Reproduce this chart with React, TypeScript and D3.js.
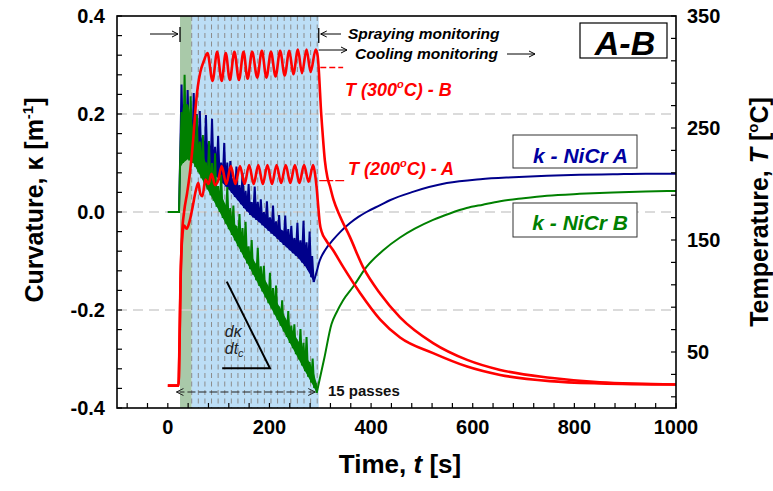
import React from "react";
import * as d3 from "d3";

type P = [number, number];
type B3 = [number, number, number];

// ---------- data ----------
const xTickLabels = [0, 200, 400, 600, 800, 1000];
const kTickLabels = [-0.4, -0.2, 0.0, 0.2, 0.4];
const tTickLabels = [50, 150, 250, 350];
const kGrid = [-0.2, 0.0, 0.2];

const sprayBand: P = [47, 297]; // blue band (s)
const preBand: P = [24, 47]; // green band (s)
const passTimes = [47, 60, 73, 86, 99, 112, 125, 138, 151, 164, 177, 190, 203, 216, 229, 242, 255, 268, 281, 294];

// Temperature, specimen B (300 C)
const tempB: P[] = [
  [0, 20], [21, 20], [23, 55], [25, 110], [28, 155], [32, 175], [38, 192], [44, 212], [50, 240], [55, 270],
  [59, 287], [64, 300], [71, 310], [78, 317], [88, 292], [97, 318], [106, 292], [114, 317], [122, 293],
  [131, 318], [140, 293], [149, 318], [157, 294], [166, 318], [176, 295], [185, 319], [194, 295], [203, 318],
  [212, 296], [221, 319], [230, 297], [239, 319], [247, 298], [256, 320], [264, 299], [273, 320], [281, 300],
  [291, 320], [295, 314], [298, 295], [301, 269], [305, 243], [309, 221], [314, 206], [319, 198], [326, 186],
  [339, 171], [358, 153], [384, 126], [418, 102], [457, 81], [522, 58], [589, 43], [654, 34], [752, 27],
  [850, 23], [1000, 21],
];

// Temperature, specimen A (200 C)
const tempA: P[] = [
  [0, 20], [21, 20], [23, 60], [25, 115], [28, 150], [32, 163], [37, 160], [43, 167], [49, 180], [55, 194],
  [60, 201], [64, 191], [68, 189], [74, 204], [80, 200], [86, 209], [93, 199], [99, 203], [106, 216],
  [115, 200], [124, 216], [133, 200], [142, 216], [151, 200], [160, 217], [169, 200], [178, 217], [187, 200],
  [196, 217], [205, 200], [214, 217], [223, 201], [232, 217], [241, 201], [250, 217], [259, 201], [268, 217],
  [277, 202], [286, 217], [290, 208], [293, 196], [296, 180], [299, 165], [303, 157], [311, 150], [325, 141],
  [345, 126], [378, 103], [418, 79], [457, 63], [522, 49], [589, 37], [654, 29.5], [752, 24], [850, 22],
  [1000, 21],
];

// Curvature NiCr A during spraying (noisy)
const kappaASpray: P[] = [
  [0, 0], [22, 0], [24, 0.1], [27, 0.26], [30, 0.111], [33, 0.207], [36, 0.1225], [39, 0.249], [42, 0.128],
  [45, 0.182], [48, 0.12], [51, 0.243], [54, 0.113], [57, 0.2], [60, 0.106], [63, 0.206], [66, 0.1],
  [69, 0.153], [72, 0.095], [75, 0.198], [78, 0.089], [81, 0.143], [84, 0.083], [87, 0.19], [90, 0.078],
  [93, 0.133], [96, 0.072], [99, 0.155], [102, 0.065], [105, 0.101], [108, 0.059], [111, 0.141], [114, 0.052],
  [117, 0.101], [120, 0.046], [123, 0.104], [126, 0.039], [129, 0.069], [132, 0.031], [135, 0.093],
  [138, 0.024], [141, 0.055], [144, 0.016], [147, 0.08], [150, 0.008], [153, 0.043], [156, 0.001],
  [159, 0.057], [162, -0.006], [165, 0.02], [168, -0.011], [171, 0.052], [174, -0.016], [177, 0.021],
  [180, -0.021], [183, 0.026], [186, -0.027], [189, 0.0], [192, -0.032], [195, 0.022], [198, -0.038],
  [201, -0.011], [204, -0.044], [207, 0.013], [210, -0.049], [213, -0.019], [216, -0.055], [219, -0.006],
  [222, -0.061], [225, -0.038], [228, -0.067], [231, -0.007], [234, -0.072], [237, -0.035], [240, -0.078],
  [243, -0.028], [246, -0.084], [249, -0.053], [252, -0.089], [255, -0.022], [258, -0.095], [261, -0.058],
  [264, -0.103], [267, -0.018], [270, -0.11], [273, -0.062], [276, -0.118], [279, -0.04], [282, -0.133],
  [284, -0.09], [287, -0.143],
];
// dense core of the NiCr A noise band: [t, low, high]
const kappaACore: B3[] = [
  [24, 0.1, 0.16], [30, 0.11, 0.2], [40, 0.13, 0.205], [50, 0.118, 0.185], [60, 0.106, 0.16],
  [75, 0.092, 0.135], [90, 0.078, 0.115], [105, 0.062, 0.095], [120, 0.046, 0.075], [135, 0.027, 0.055],
  [150, 0.008, 0.035], [165, -0.008, 0.018], [180, -0.021, 0.003], [195, -0.035, -0.01], [210, -0.049, -0.024],
  [225, -0.064, -0.037], [240, -0.078, -0.05], [255, -0.092, -0.062], [270, -0.11, -0.078],
  [280, -0.128, -0.095], [287, -0.143, -0.125],
];
// Curvature NiCr A during cooling (smooth)
const kappaACool: P[] = [
  [287, -0.143], [292, -0.125], [299, -0.099], [310, -0.077], [325, -0.057], [340, -0.04], [358, -0.023],
  [375, -0.01], [391, 0.0], [418, 0.014], [437, 0.024], [482, 0.041], [549, 0.059], [615, 0.067],
  [680, 0.071], [746, 0.074], [810, 0.076], [876, 0.077], [940, 0.078], [1000, 0.078],
];

// Curvature NiCr B during spraying (noisy)
const kappaBSpray: P[] = [
  [0, 0], [22, 0], [24, 0.09], [27, 0.204], [30, 0.1], [33, 0.28], [36, 0.11], [39, 0.194], [42, 0.105],
  [45, 0.236], [48, 0.1], [51, 0.139], [54, 0.092], [57, 0.198], [60, 0.081], [63, 0.144], [66, 0.069],
  [69, 0.157], [72, 0.058], [75, 0.101], [78, 0.046], [81, 0.145], [84, 0.034], [87, 0.1], [90, 0.023],
  [93, 0.12], [96, 0.011], [99, 0.053], [102, 0.0], [105, 0.076], [108, -0.012], [111, 0.015], [114, -0.024],
  [117, 0.051], [120, -0.035], [123, 0.008], [126, -0.047], [129, 0.013], [132, -0.058], [135, -0.028],
  [138, -0.07], [141, -0.004], [144, -0.081], [147, -0.033], [150, -0.093], [153, -0.02], [156, -0.105],
  [159, -0.07], [162, -0.116], [165, -0.057], [168, -0.128], [171, -0.106], [174, -0.139], [177, -0.073],
  [180, -0.151], [183, -0.111], [186, -0.162], [189, -0.11], [192, -0.174], [195, -0.149], [198, -0.186],
  [201, -0.124], [204, -0.197], [207, -0.155], [210, -0.209], [213, -0.15], [216, -0.22], [219, -0.193],
  [222, -0.232], [225, -0.18], [228, -0.244], [231, -0.227], [234, -0.255], [237, -0.202], [240, -0.267],
  [243, -0.232], [246, -0.278], [249, -0.229], [252, -0.29], [255, -0.264], [258, -0.301], [261, -0.239],
  [264, -0.313], [267, -0.267], [270, -0.325], [273, -0.255], [276, -0.336], [279, -0.306], [282, -0.348],
  [285, -0.299], [288, -0.359], [291, -0.349], [293, -0.369],
];
// dense core of the NiCr B noise band: [t, low, high]
const kappaBCore: B3[] = [
  [24, 0.09, 0.15], [30, 0.1, 0.22], [40, 0.108, 0.22], [50, 0.1, 0.17], [60, 0.081, 0.14],
  [75, 0.052, 0.1], [90, 0.023, 0.07], [105, -0.006, 0.035], [120, -0.035, 0.0], [135, -0.064, -0.03],
  [150, -0.093, -0.06], [165, -0.122, -0.09], [180, -0.151, -0.118], [195, -0.18, -0.145],
  [210, -0.209, -0.175], [225, -0.238, -0.203], [240, -0.267, -0.232], [255, -0.296, -0.26],
  [270, -0.325, -0.29], [285, -0.353, -0.32], [293, -0.369, -0.35],
];
// Curvature NiCr B during cooling (smooth)
const kappaBCool: P[] = [
  [293, -0.369], [308, -0.298], [322, -0.229], [332, -0.205], [345, -0.18], [365, -0.152], [391, -0.112],
  [424, -0.078], [457, -0.052], [486, -0.034], [522, -0.016], [555, -0.003], [588, 0.008], [620, 0.015],
  [654, 0.022], [700, 0.028], [746, 0.033], [810, 0.037], [876, 0.04], [940, 0.042], [1000, 0.043],
];

// slope triangle (t, kappa)
const slopeTri: P[] = [[116, -0.142], [201, -0.319], [107, -0.319]];

// ---------- layout ----------
const W = 773, H = 491;
const X0 = 117, X1 = 676, Y0 = 16, Y1 = 408;
const FONT = "'Liberation Sans', Arial, Helvetica, sans-serif";
const RED = "#ff0000", NAVY = "#00008b", GREEN = "#008000";

export default function App() {
  const x = d3.scaleLinear().domain([-100, 1000]).range([X0, X1]);
  const yK = d3.scaleLinear().domain([-0.4, 0.4]).range([Y1, Y0]);
  const yT = d3.scaleLinear().domain([0, 350]).range([Y1, Y0]);

  const kLine = d3.line<P>().x((d) => x(d[0])).y((d) => yK(d[1]));
  const kSmooth = d3.line<P>().x((d) => x(d[0])).y((d) => yK(d[1])).curve(d3.curveMonotoneX);
  const tLine = d3.line<P>().x((d) => x(d[0])).y((d) => yT(d[1])).curve(d3.curveMonotoneX);
  const core = d3.area<B3>().x((d) => x(d[0])).y0((d) => yK(d[1])).y1((d) => yK(d[2]));

  const xMinor = d3.range(-80, 1001, 40);
  const kMinor = d3.range(-0.4, 0.4001, 0.04);
  const tMinor = d3.range(10, 351, 20);

  const xs = x(sprayBand[1]);
  const xg = x(preBand[0]);

  return (
    <svg width={W} height={H} style={{ position: "absolute", left: 0, top: 0, background: "#fff" }} fontFamily={FONT}>
      {/* bands */}
      <rect x={x(preBand[0])} y={Y0} width={x(preBand[1]) - x(preBand[0])} height={Y1 - Y0} fill="#a9c9a9" />
      <rect x={x(sprayBand[0])} y={Y0} width={x(sprayBand[1]) - x(sprayBand[0])} height={Y1 - Y0} fill="#bcdef6" />
      {/* grid */}
      {kGrid.map((v) => (
        <line key={"g" + v} x1={X0} x2={X1} y1={yK(v)} y2={yK(v)} stroke="#cfcfcf" strokeWidth={1.5} strokeDasharray="10,6" />
      ))}
      {/* pass lines */}
      {passTimes.map((t) => (
        <line key={"p" + t} x1={x(t)} x2={x(t)} y1={Y0} y2={Y1} stroke="#8c8c8c" strokeWidth={1} strokeDasharray="5,3.5" />
      ))}
      {/* curvature */}
      <path d={core(kappaACore) || ""} fill={NAVY} />
      <path d={kLine(kappaASpray) || ""} fill="none" stroke={NAVY} strokeWidth={2} strokeLinejoin="miter" strokeMiterlimit={3} />
      <path d={core(kappaBCore) || ""} fill={GREEN} />
      <path d={kLine(kappaBSpray) || ""} fill="none" stroke={GREEN} strokeWidth={2} strokeLinejoin="miter" strokeMiterlimit={3} />
      <path d={kSmooth(kappaACool) || ""} fill="none" stroke={NAVY} strokeWidth={2} />
      <path d={kSmooth(kappaBCool) || ""} fill="none" stroke={GREEN} strokeWidth={2} />
      {/* temperature */}
      <path d={tLine(tempA) || ""} fill="none" stroke={RED} strokeWidth={2.6} strokeLinejoin="round" />
      <path d={tLine(tempB) || ""} fill="none" stroke={RED} strokeWidth={2.6} strokeLinejoin="round" />

      {/* red leader lines */}
      <line x1={x(300)} x2={x(345)} y1={yT(304)} y2={yT(304)} stroke={RED} strokeWidth={1.3} strokeDasharray="6,3" />
      <line x1={x(298)} x2={x(347)} y1={yT(203)} y2={yT(203)} stroke={RED} strokeWidth={1.3} strokeDasharray="14,2" />

      {/* slope triangle */}
      <path d={"M" + slopeTri.map((d) => `${x(d[0])},${yK(d[1])}`).join("L")} fill="none" stroke="#000" strokeWidth={2} />
      <text x={x(112)} y={337} fontSize={16} fontStyle="italic" fill="#222">dκ</text>
      <text x={x(112)} y={354} fontSize={16} fontStyle="italic" fill="#222">
        dt<tspan fontSize={11} dy={3}>c</tspan>
      </text>

      {/* 15 passes arrow */}
      <line x1={x(17)} x2={x(290)} y1={392} y2={392} stroke="#222" strokeWidth={1} strokeDasharray="8,3" />
      <path d={`M${x(17) + 7},388.5 L${x(17)},392 L${x(17) + 7},395.5`} fill="none" stroke="#222" strokeWidth={1} />
      <path d={`M${x(290) - 7},388.5 L${x(290)},392 L${x(290) - 7},395.5`} fill="none" stroke="#222" strokeWidth={1} />
      <text x={328} y={396} fontSize={15} fontWeight="bold" fill="#111">15 passes</text>

      {/* spraying / cooling annotations */}
      <line x1={150} x2={xg - 2} y1={34} y2={34} stroke="#000" strokeWidth={1} />
      <path d={`M${xg - 8},31 L${xg - 2},34 L${xg - 8},37`} fill="none" stroke="#000" strokeWidth={1} />
      <line x1={xg} x2={xg} y1={27} y2={42} stroke="#000" strokeWidth={1.3} />
      <line x1={xs} x2={xs} y1={28} y2={43} stroke="#000" strokeWidth={1.3} />
      <line x1={xs + 2} x2={341} y1={34} y2={34} stroke="#000" strokeWidth={1} />
      <path d={`M${xs + 8},31 L${xs + 2},34 L${xs + 8},37`} fill="none" stroke="#000" strokeWidth={1} />
      <text x={348} y={39} fontSize={15.5} fontWeight="bold" fontStyle="italic">Spraying monitoring</text>
      <line x1={xs} x2={347} y1={50} y2={50} stroke="#000" strokeWidth={1} />
      <path d={`M341,47 L347,50 L341,53`} fill="none" stroke="#000" strokeWidth={1} />
      <text x={355} y={59} fontSize={15.5} fontWeight="bold" fontStyle="italic">Cooling monitoring</text>
      <line x1={507} x2={535} y1={54} y2={54} stroke="#000" strokeWidth={1} />
      <path d={`M529,51 L535,54 L529,57`} fill="none" stroke="#000" strokeWidth={1} />

      {/* A-B box */}
      <rect x={580} y={23} width={87} height={35} fill="#fff" stroke="#000" strokeWidth={1.2} />
      <text x={625} y={55} textAnchor="middle" fontSize={34} fontWeight="bold" fontStyle="italic">A-B</text>

      {/* red labels */}
      <text x={345} y={95.5} fontSize={18} fontWeight="bold" fontStyle="italic" fill={RED}>
        T (300<tspan fontSize={11} dy={-8}>o</tspan><tspan dy={8}>C) - B</tspan>
      </text>
      <text x={348} y={174.5} fontSize={18} fontWeight="bold" fontStyle="italic" fill={RED}>
        T (200<tspan fontSize={11} dy={-8}>o</tspan><tspan dy={8}>C) - A</tspan>
      </text>

      {/* series label boxes */}
      <rect x={513} y={135} width={124} height={33} fill="#fff" stroke="#333" strokeWidth={1} />
      <text x={628} y={162.5} textAnchor="end" fontSize={21} fontWeight="bold" fontStyle="italic" fill="#0000a0">k - NiCr A</text>
      <rect x={513} y={203} width={124} height={34} fill="#fff" stroke="#333" strokeWidth={1} />
      <text x={628} y={229.5} textAnchor="end" fontSize={21} fontWeight="bold" fontStyle="italic" fill={GREEN}>k - NiCr B</text>

      {/* frame */}
      <rect x={X0} y={Y0} width={X1 - X0} height={Y1 - Y0} fill="none" stroke="#000" strokeWidth={1.6} />
      {xMinor.map((v) => (
        <line key={"xt" + v} x1={x(v)} x2={x(v)} y1={Y1} y2={Y1 - 5} stroke="#000" strokeWidth={1.2} />
      ))}
      {kMinor.map((v, i) => (
        <line key={"kt" + i} x1={X0} x2={X0 + 5} y1={yK(v)} y2={yK(v)} stroke="#000" strokeWidth={1.2} />
      ))}
      {tMinor.map((v) => (
        <line key={"tt" + v} x1={X1} x2={X1 - 5} y1={yT(v)} y2={yT(v)} stroke="#000" strokeWidth={1.2} />
      ))}

      {/* tick labels */}
      {xTickLabels.map((v) => (
        <text key={"xl" + v} x={x(v)} y={434} textAnchor="middle" fontSize={20} fontWeight="bold">{v}</text>
      ))}
      {kTickLabels.map((v) => (
        <text key={"kl" + v} x={105} y={yK(v) + 7} textAnchor="end" fontSize={20} fontWeight="bold">{v.toFixed(1)}</text>
      ))}
      {tTickLabels.map((v) => (
        <text key={"tl" + v} x={687} y={yT(v) + 7} fontSize={20} fontWeight="bold">{v}</text>
      ))}

      {/* axis titles */}
      <text x={400} y={473} textAnchor="middle" fontSize={26} fontWeight="bold">
        Time, <tspan fontStyle="italic">t</tspan> [s]
      </text>
      <text transform="translate(43,200) rotate(-90)" textAnchor="middle" fontSize={25} fontWeight="bold">
        Curvature, κ [m<tspan fontSize={15} dy={-10}>-1</tspan><tspan dy={10}>]</tspan>
      </text>
      <text transform="translate(768,212) rotate(-90)" textAnchor="middle" fontSize={25} fontWeight="bold">
        Temperature, <tspan fontStyle="italic">T</tspan> [<tspan fontSize={15} dy={-10}>o</tspan><tspan dy={10}>C]</tspan>
      </text>
    </svg>
  );
}
